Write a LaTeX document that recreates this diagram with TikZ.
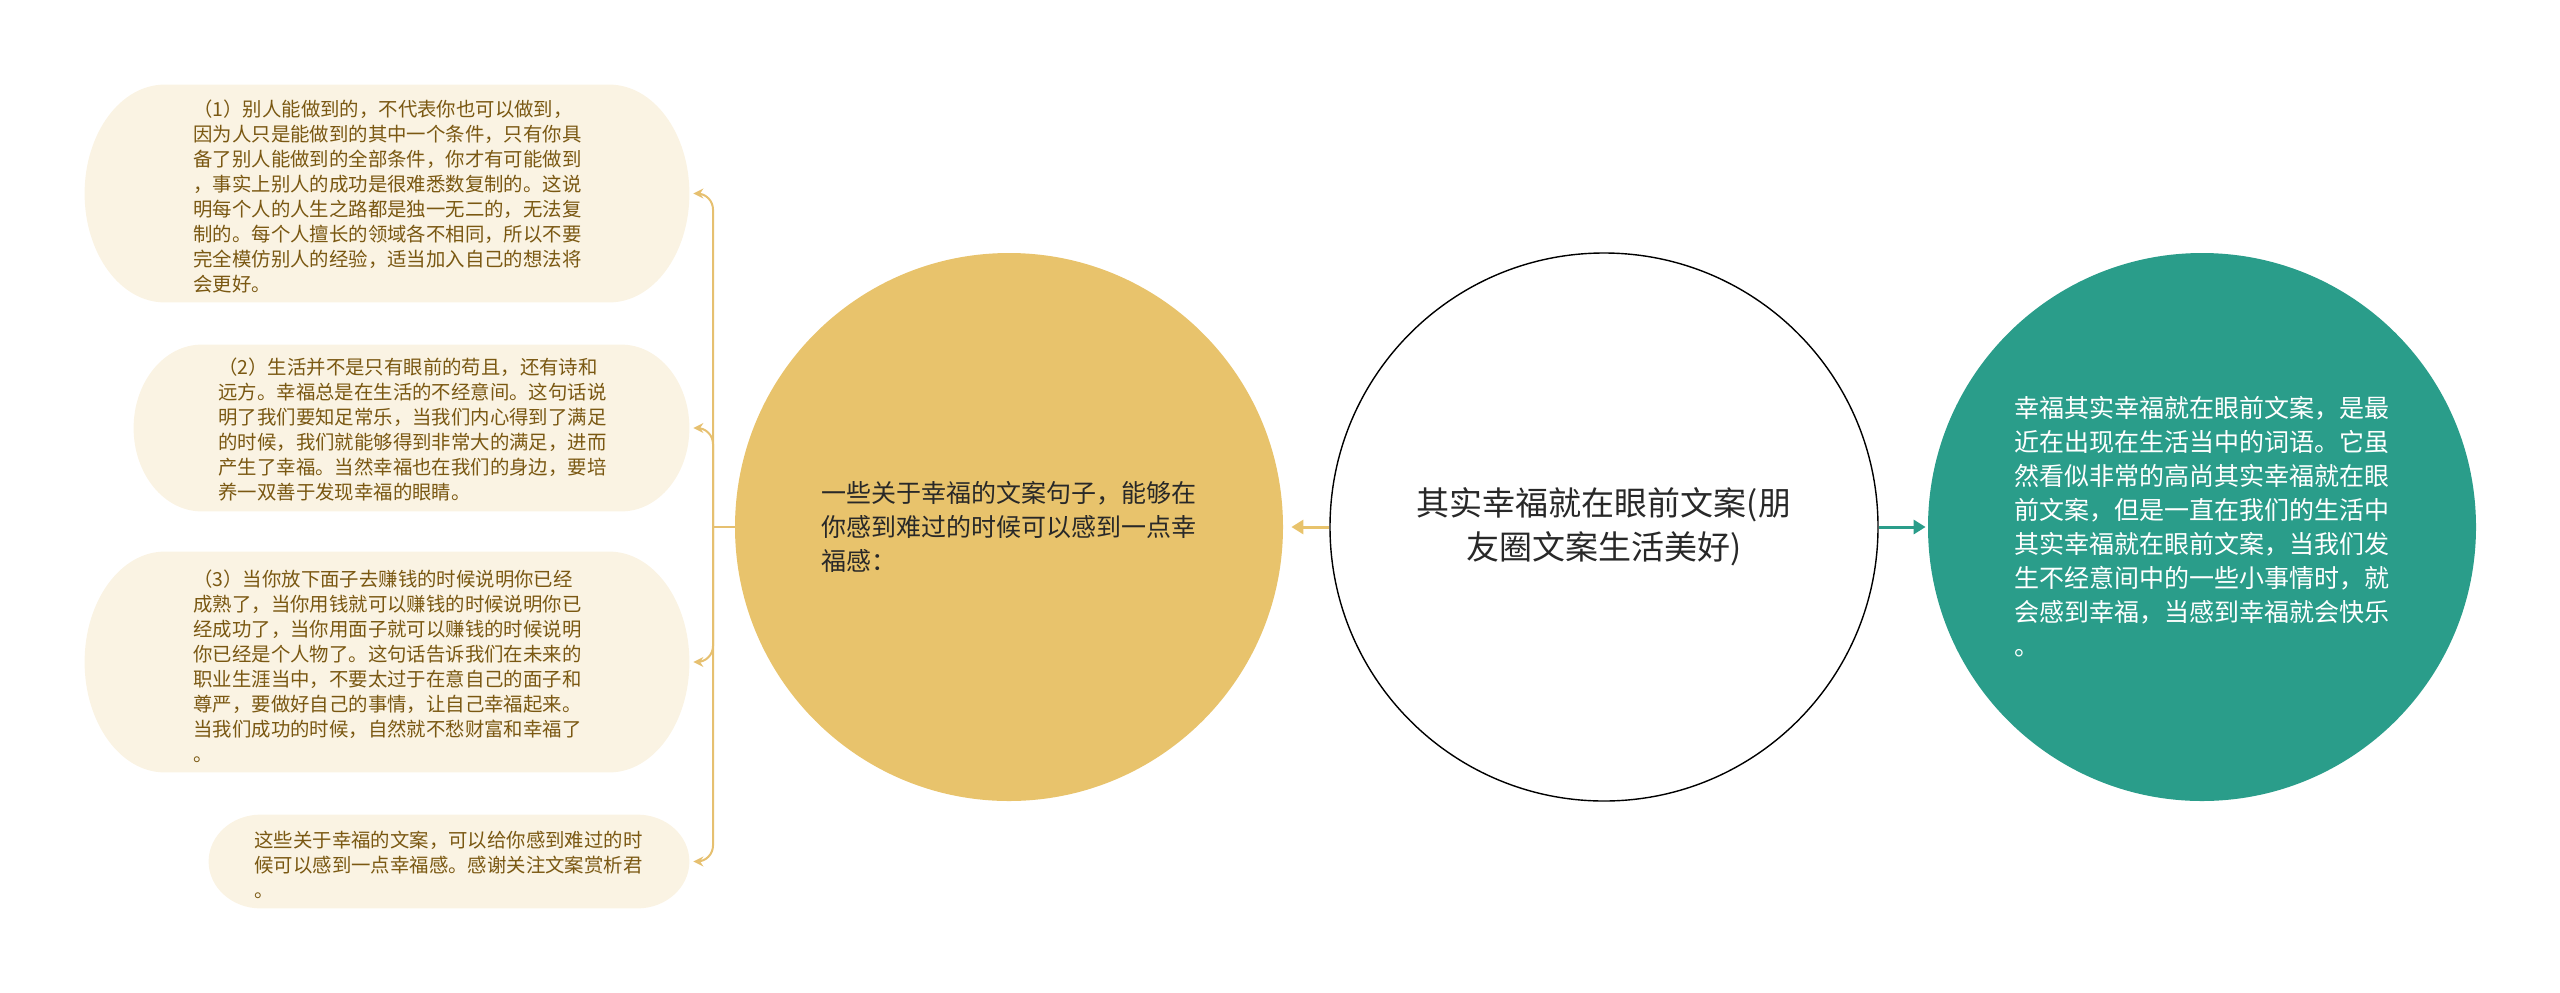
\documentclass[tikz,border=0pt]{standalone}
\usepackage{fontspec}
\setmainfont{Noto Sans CJK SC}
\usetikzlibrary{arrows.meta,calc}
\definecolor{boxfill}{RGB}{250,243,227}
\definecolor{boxtext}{RGB}{122,88,18}
\definecolor{yel}{RGB}{232,195,108}
\definecolor{yelline}{RGB}{230,192,112}
\definecolor{tealc}{RGB}{42,157,138}
\definecolor{darktext}{RGB}{40,40,40}
\newcommand{\pillfill}[2]{%
  \fill[boxfill] let \p1=(#1.north east), \p2=(#1.south west), \n1={(\y1-\y2)/2} in
  (\x2+#2,\y1) -- (\x1-#2,\y1)
  arc[start angle=90,end angle=-90,x radius=#2,y radius=\n1]
  -- (\x2+#2,\y2)
  arc[start angle=270,end angle=90,x radius=#2,y radius=\n1] -- cycle;}
\begin{document}
\begin{tikzpicture}[x=0.5pt,y=-0.5pt,
  boxnode/.style={inner sep=0pt,draw=none},
  boxtxt/.style={inner sep=0pt,align=left,text=boxtext,font=\fontsize{9.7}{12.5}\selectfont,anchor=west},
  bigcircle/.style={circle,inner sep=0pt,minimum size=274pt},
  conn/.style={draw=yelline,line width=1pt,rounded corners=8pt,-{Stealth[length=5pt,width=5pt]},shorten >=2pt},
  connline/.style={draw=yelline,line width=1pt},
  mainarrow/.style={line width=1.5pt,-{Triangle[length=6pt,width=7pt]}}]
\useasboundingbox (0,0) rectangle (2560,992);

% left boxes
\node[boxnode,minimum width=302pt,minimum height=108.5pt] (b1) at (387,193.5) {};
\node[boxnode,minimum width=277.5pt,minimum height=83pt] (b2) at (411.5,428) {};
\node[boxnode,minimum width=302pt,minimum height=110pt] (b3) at (387,662) {};
\node[boxnode,minimum width=240pt,minimum height=46.5pt] (b4) at (449,861.5) {};
\pillfill{b1}{40pt}
\pillfill{b2}{34pt}
\pillfill{b3}{40pt}
\pillfill{b4}{26pt}

\node[boxtxt] (t1) at (193,196) {（1）别人能做到的，不代表你也可以做到，\\因为人只是能做到的其中一个条件，只有你具\\备了别人能做到的全部条件，你才有可能做到\\，事实上别人的成功是很难悉数复制的。这说\\明每个人的人生之路都是独一无二的，无法复\\制的。每个人擅长的领域各不相同，所以不要\\完全模仿别人的经验，适当加入自己的想法将\\会更好。};
\node[boxtxt] (t2) at (218,430) {（2）生活并不是只有眼前的苟且，还有诗和\\远方。幸福总是在生活的不经意间。这句话说\\明了我们要知足常乐，当我们内心得到了满足\\的时候，我们就能够得到非常大的满足，进而\\产生了幸福。当然幸福也在我们的身边，要培\\养一双善于发现幸福的眼睛。};
\node[boxtxt] (t3) at (193,666) {（3）当你放下面子去赚钱的时候说明你已经\\成熟了，当你用钱就可以赚钱的时候说明你已\\经成功了，当你用面子就可以赚钱的时候说明\\你已经是个人物了。这句话告诉我们在未来的\\职业生涯当中，不要太过于在意自己的面子和\\尊严，要做好自己的事情，让自己幸福起来。\\当我们成功的时候，自然就不愁财富和幸福了\\。};
\node[boxtxt] (t4) at (254,865) {这些关于幸福的文案，可以给你感到难过的时\\候可以感到一点幸福感。感谢关注文案赏析君\\。};

% circles
\node[bigcircle,fill=yel,align=left,text=darktext,font=\fontsize{12.5}{17}\selectfont] (yc) at (1009,527) {一些关于幸福的文案句子，能够在\\你感到难过的时候可以感到一点幸\\福感：};
\node[bigcircle,fill=white,draw=black,line width=0.7pt,align=center,text=darktext,font=\fontsize{16.5}{22}\selectfont] (wc) at (1604,527) {其实幸福就在眼前文案(朋\\友圈文案生活美好)};
\node[bigcircle,fill=tealc,align=left,text=white,font=\fontsize{12.5}{17}\selectfont] (tc) at (2202,527) {幸福其实幸福就在眼前文案，是最\\近在出现在生活当中的词语。它虽\\然看似非常的高尚其实幸福就在眼\\前文案，但是一直在我们的生活中\\其实幸福就在眼前文案，当我们发\\生不经意间中的一些小事情时，就\\会感到幸福，当感到幸福就会快乐\\。};

% main arrows
\draw[mainarrow,draw=yel,fill=yel,shorten >=4pt] (wc.west) -- (yc.east);
\draw[mainarrow,draw=tealc,fill=tealc,shorten >=1pt] (wc.east) -- (tc.west);

% left connectors
\coordinate (stem) at (713,527);
\draw[connline] (yc.west) -- (stem);
\draw[conn] (stem) |- (b1.east);
\draw[conn] (stem) |- (b2.east);
\draw[conn] (stem) |- (b3.east);
\draw[conn] (stem) |- (b4.east);
\end{tikzpicture}
\end{document}
